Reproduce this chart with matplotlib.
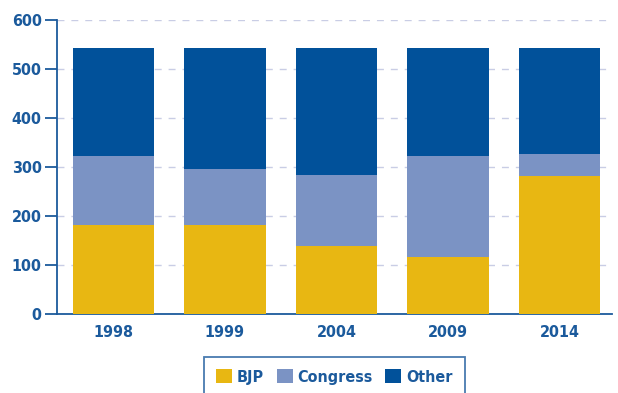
import matplotlib
matplotlib.use("Agg")
import matplotlib.pyplot as plt

years = ["1998", "1999", "2004", "2009", "2014"]
bjp = [182, 182, 138, 116, 282]
congress = [141, 114, 145, 206, 44]
other = [220, 247, 260, 221, 217]

c_bjp = "#E8B712"
c_cong = "#7B93C4"
c_other = "#01519A"
c_text = "#1B5A9C"

plt.rcParams['font.family'] = ['DejaVu Sans']
plt.rcParams['font.stretch'] = 'condensed'

fig = plt.figure(figsize=(6.18, 3.93), dpi=100)
ax = fig.add_axes([57/618, 1-314/393, (612-57)/618, (314-20)/393])

x = list(range(len(years)))
w = 0.73
ax.bar(x, bjp, width=w, color=c_bjp, label="BJP", zorder=3)
ax.bar(x, congress, width=w, bottom=bjp, color=c_cong, label="Congress", zorder=3)
b2 = [a + b for a, b in zip(bjp, congress)]
ax.bar(x, other, width=w, bottom=b2, color=c_other, label="Other", zorder=3)

ax.set_xlim(-0.505, 4.47)
ax.set_ylim(0, 600)
ax.set_yticks(range(0, 601, 100))
ax.set_xticks(x)
ax.set_xticklabels(years)
ax.yaxis.grid(True, linestyle=(0, (5, 5)), color="#C9CDE5", linewidth=1, zorder=0)
for s in ["top", "right"]:
    ax.spines[s].set_visible(False)
for s in ["left", "bottom"]:
    ax.spines[s].set_color(c_text)
    ax.spines[s].set_linewidth(1.3)
ax.tick_params(axis="y", length=9, width=1.3, color=c_text, labelcolor=c_text, labelsize=11.5, pad=2)
ax.tick_params(axis="x", length=0, labelcolor=c_text, labelsize=11.5, pad=8)
for lab in ax.get_xticklabels() + ax.get_yticklabels():
    lab.set_fontweight("bold")
    lab.set_fontstretch("condensed")

leg = fig.legend(loc="upper left", bbox_to_anchor=(204/618, 1-357/393), ncol=3,
                 frameon=True, fancybox=False, handlelength=1.0, handleheight=1.0,
                 handletextpad=0.3, columnspacing=0.8, borderpad=0.75, borderaxespad=0,
                 prop={"weight": "bold", "size": 11.5, "stretch": "condensed"})
leg.get_frame().set_edgecolor(c_text)
leg.get_frame().set_linewidth(1.3)
for t in leg.get_texts():
    t.set_color(c_text)

fig.savefig("out.png", dpi=100)
